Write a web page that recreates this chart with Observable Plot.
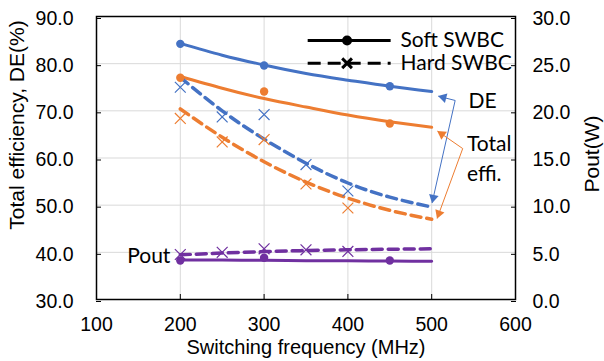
<!DOCTYPE html>
<html><head><meta charset="utf-8">
<script src="https://cdn.jsdelivr.net/npm/d3@7"></script>
<script src="https://cdn.jsdelivr.net/npm/@observablehq/plot@0.6"></script>
<style>html,body{margin:0;padding:0;background:#fff;} svg{display:block}</style>
</head><body><div id="chart"></div>
<script>
// ---- data ----
const xTicks = [100, 200, 300, 400, 500, 600];
const yLeftTicks = [30, 40, 50, 60, 70, 80, 90];
const yRightTicks = [0, 5, 10, 15, 20, 25, 30];

const softFreq = [200, 300, 450];
const softDE = [84.2, 79.6, 75.2];
const softTE = [77.0, 74.1, 67.3];
const softPout = [4.13, 4.42, 4.13];

const hardFreq = [200, 250, 300, 350, 400];
const hardDE = [75.0, 68.7, 69.2, 58.6, 53.0];
const hardTE = [68.4, 63.4, 63.9, 54.5, 49.4];
const hardPout = [4.77, 5.0, 5.37, 5.27, 5.1];

const fitFreq = [200, 250, 300, 350, 400, 450, 500];
const softDEFit = [84.3, 81.8, 79.7, 77.9, 76.5, 75.2, 74.1];
const softTEFit = [77.3, 74.8, 72.6, 70.8, 69.1, 67.7, 66.5];
const softPoutFit = [4.2, 4.18, 4.15, 4.12, 4.1, 4.07, 4.05];
const hardDEFit = [77.1, 70.0, 64.0, 58.9, 54.7, 51.7, 49.6];
const hardTEFit = [70.4, 64.4, 59.2, 54.9, 51.5, 48.9, 47.0];
const hardPoutFit = [4.74, 4.92, 5.08, 5.19, 5.27, 5.33, 5.37];

const legendLabels = ["Soft SWBC", "Hard SWBC"];
const annoLabels = ["DE", "Total", "effi.", "Pout"];
// callouts: [vertex, tip] in data units (freq, %)
const deCallouts = [[[528, 72.2], [508, 73.1]], [[528, 72.2], [500.5, 50.5]]];
const teCallouts = [[[537, 62.0], [507, 65.7]], [[537, 62.0], [506.5, 47.2]]];

// ---- layout ----
const W = 604, H = 361;
const mT = 16, mR = 89, mB = 62, mL = 96;
const xDom = [100, 600], yDom = [30, 90];
const kx = (W - mL - mR) / (xDom[1] - xDom[0]);
const ky = (H - mT - mB) / (yDom[1] - yDom[0]);
const BLUE = "#4472C4", ORANGE = "#ED7D31", PURPLE = "#7030A0";
const pToY = p => 30 + p * 2; // right axis 0..30 W -> left 30..90 %

const rows = (xs, ys, f = v => v) => xs.map((x, i) => ({x, y: f(ys[i])}));

function calloutMarks(callouts, color) {
  const links = callouts.map(([v, t]) => ({x1: v[0], y1: v[1], x2: t[0], y2: t[1]}));
  const heads = callouts.map(([v, t]) => {
    const dxp = (t[0] - v[0]) * kx, dyp = -(t[1] - v[1]) * ky;
    const len = Math.hypot(dxp, dyp);
    const ux = dxp / len, uy = dyp / len;
    const back = 5.2;
    return {
      x: t[0] - ux * back / kx,
      y: t[1] + uy * back / ky,
      rot: Math.atan2(dxp, -dyp) * 180 / Math.PI
    };
  });
  return [
    Plot.link(links, {x1: "x1", y1: "y1", x2: "x2", y2: "y2", stroke: color, strokeWidth: 1}),
    Plot.dot(heads, {x: "x", y: "y", rotate: "rot", symbol: "triangle", r: 3.6, fill: color, stroke: "none"})
  ];
}

const solidLine = (ys, color) => Plot.line(rows(fitFreq, ys), {x: "x", y: "y", stroke: color, strokeWidth: 3, curve: "natural"});
const dashLine = (ys, color) => Plot.line(rows(fitFreq, ys), {x: "x", y: "y", stroke: color, strokeWidth: 3.5, strokeDasharray: "10,6", curve: "natural"});
const softDots = (ys, color) => Plot.dot(ys, {x: "x", y: "y", r: 4.2, fill: color, stroke: "none"});
const hardDots = (ys, color) => Plot.dot(ys, {x: "x", y: "y", symbol: "times", r: 5, stroke: color, strokeWidth: 1.2});

const LF = "Lato, 'Open Sans', sans-serif";

const chart = Plot.plot({
  width: W, height: H,
  marginTop: mT, marginRight: mR, marginBottom: mB, marginLeft: mL,
  x: {domain: xDom},
  y: {domain: yDom},
  style: {fontFamily: "'Liberation Sans', Arial, sans-serif", fontSize: "19.5px", color: "black", background: "white"},
  marks: [
    Plot.gridX([200, 300, 400, 500], {stroke: "#d9d9d9", strokeOpacity: 1, strokeWidth: 1}),
    Plot.gridY([40, 50, 60, 70, 80], {stroke: "#d9d9d9", strokeOpacity: 1, strokeWidth: 1}),
    Plot.frame({stroke: "black", strokeWidth: 1.5}),
    Plot.axisX({ticks: xTicks, tickSize: -5, tickPadding: 23, tickFormat: d => String(d), label: null}),
    Plot.axisY({anchor: "left", ticks: yLeftTicks, tickSize: -5, tickPadding: 28, tickFormat: d => d.toFixed(1), label: null, dy: 2}),
    Plot.axisY({anchor: "right", ticks: yRightTicks.map(pToY), tickSize: -5, tickPadding: 22, tickFormat: d => ((d - 30) / 2).toFixed(1), label: null, dy: 2}),
    Plot.text(["Total efficiency, DE(%)"], {frameAnchor: "left", textAnchor: "middle", lineAnchor: "middle", rotate: -90, dx: -79, dy: -33, fontSize: 21, fill: "black"}),
    Plot.text(["Pout(W)"], {frameAnchor: "right", textAnchor: "middle", lineAnchor: "middle", rotate: -90, dx: 77, dy: -4, fontSize: 21, fill: "black"}),
    Plot.text(["Switching frequency (MHz)"], {frameAnchor: "bottom", textAnchor: "middle", lineAnchor: "middle", dy: 48.5, fontSize: 20, fill: "black"}),

    // trend lines
    solidLine(softDEFit, BLUE),
    solidLine(softTEFit, ORANGE),
    Plot.line(rows(fitFreq, softPoutFit, pToY), {x: "x", y: "y", stroke: PURPLE, strokeWidth: 3, curve: "natural"}),
    dashLine(hardDEFit, BLUE),
    dashLine(hardTEFit, ORANGE),
    Plot.line(rows(fitFreq, hardPoutFit, pToY), {x: "x", y: "y", stroke: PURPLE, strokeWidth: 3.5, strokeDasharray: "10,6", curve: "natural"}),

    // measured points
    softDots(rows(softFreq, softDE), BLUE),
    softDots(rows(softFreq, softTE), ORANGE),
    softDots(rows(softFreq, softPout, pToY), PURPLE),
    hardDots(rows(hardFreq, hardDE), BLUE),
    hardDots(rows(hardFreq, hardTE), ORANGE),
    hardDots(rows(hardFreq, hardPout, pToY), PURPLE),

    // callouts
    ...calloutMarks(deCallouts, BLUE),
    ...calloutMarks(teCallouts, ORANGE),
    Plot.text([annoLabels[0]], {x: 544, y: 72.1, textAnchor: "start", fontFamily: LF, fontSize: 21, fill: "black"}),
    Plot.text([annoLabels[1]], {x: 542, y: 62.9, textAnchor: "start", fontFamily: LF, fontSize: 21, fill: "black"}),
    Plot.text([annoLabels[2]], {x: 542, y: 56.6, textAnchor: "start", fontFamily: LF, fontSize: 21, fill: "black"}),
    Plot.text([annoLabels[3]], {x: 136.6, y: 39.2, textAnchor: "start", fontFamily: LF, fontSize: 21, fill: "black"}),

    // legend
    Plot.link([0], {x1: 352, x2: 451, y1: 84.9, y2: 84.9, stroke: "black", strokeWidth: 3}),
    Plot.dot([0], {x: 399, y: 84.9, r: 5, fill: "black"}),
    Plot.text([legendLabels[0]], {x: 462.8, y: 84.9, textAnchor: "start", fontFamily: LF, fontSize: 21, fill: "black"}),
    Plot.link([0], {x1: 352, x2: 451, y1: 80.1, y2: 80.1, stroke: "black", strokeWidth: 3, strokeDasharray: "13,7"}),
    Plot.dot([0], {x: 399, y: 80.1, symbol: "times", r: 4.5, stroke: "black", strokeWidth: 3}),
    Plot.text([legendLabels[1]], {x: 462.8, y: 80.1, textAnchor: "start", fontFamily: LF, fontSize: 21, fill: "black"})
  ]
});
document.getElementById("chart").appendChild(chart);
</script>
</body></html>
